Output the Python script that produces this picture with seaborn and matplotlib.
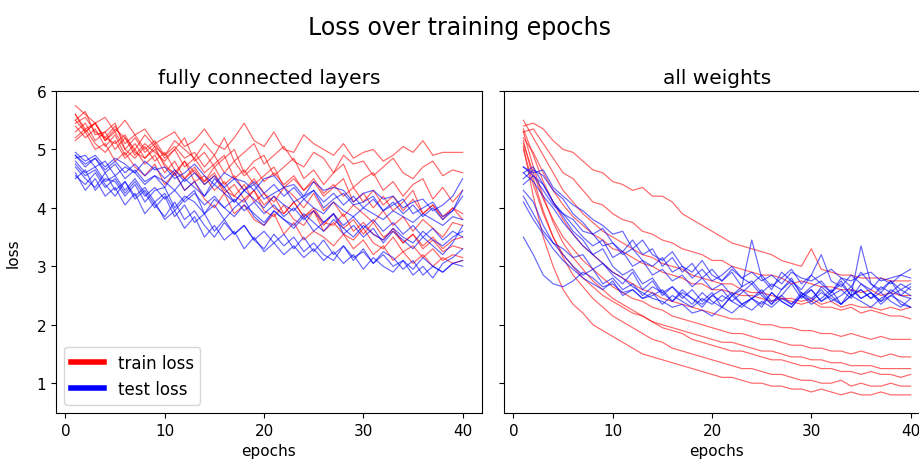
import matplotlib
matplotlib.use("Agg")
import matplotlib.pyplot as plt
import seaborn as sns
import pandas as pd
from matplotlib.lines import Line2D

epochs = list(range(1, 41))

# ---- panel 1: fully connected layers ----
fc_train = [
    [5.75,5.6,5.45,5.55,5.3,5.5,5.25,5.35,5.1,5.2,5.3,5.05,5.15,5.35,5.1,5.0,5.2,5.45,5.15,5.05,5.3,5.0,4.95,5.25,5.1,5.0,4.9,5.1,4.85,4.95,5.0,4.8,4.9,5.05,4.95,5.15,4.9,4.95,4.95,4.95],
    [5.6,5.3,5.45,5.15,5.35,5.2,5.0,5.25,5.05,4.9,5.15,5.0,4.85,5.1,4.9,5.2,4.8,4.95,5.1,4.75,4.9,5.05,4.8,4.7,4.95,4.85,4.6,4.9,4.75,4.8,4.55,4.7,4.85,4.6,4.5,4.7,4.8,4.55,4.65,4.6],
    [5.5,5.65,5.25,5.3,5.45,5.0,5.2,4.95,5.1,4.85,5.0,5.2,4.8,4.95,4.7,4.85,5.0,4.6,4.8,4.9,4.55,4.7,4.85,4.5,4.65,4.4,4.6,4.75,4.35,4.5,4.6,4.3,4.45,4.2,4.4,4.5,4.15,4.35,4.1,4.3],
    [5.3,5.45,5.15,5.3,5.0,5.2,4.9,5.1,4.95,4.8,5.0,4.7,4.85,4.6,4.75,4.9,4.5,4.65,4.4,4.55,4.7,4.35,4.5,4.3,4.45,4.2,4.35,4.5,4.1,4.25,4.0,4.2,3.95,4.1,4.3,3.9,4.05,3.85,4.0,3.9],
    [5.4,5.2,5.35,5.05,5.25,4.9,5.1,4.85,5.0,4.75,4.55,4.8,4.6,4.45,4.7,4.4,4.55,4.3,4.5,4.25,4.1,4.35,4.2,4.0,4.25,3.95,4.1,3.85,4.05,3.9,3.75,3.95,3.7,3.85,3.6,3.8,3.65,3.5,3.75,3.7],
    [5.2,5.35,5.1,4.95,5.15,4.85,5.0,4.75,4.9,4.6,4.8,4.5,4.65,4.4,4.55,4.25,4.4,4.15,4.3,4.05,4.2,3.9,4.1,3.85,3.95,3.7,3.9,3.65,3.8,3.55,3.75,3.5,3.6,3.4,3.55,3.35,3.5,3.3,3.45,3.5],
    [5.5,5.3,5.45,5.2,5.1,5.25,4.95,4.85,5.05,4.7,4.6,4.8,4.45,4.55,4.3,4.45,4.2,4.1,4.3,3.95,3.85,4.05,3.8,3.7,3.95,3.6,3.75,3.55,3.45,3.65,3.4,3.3,3.5,3.25,3.35,3.15,3.3,3.1,3.2,3.15],
    [5.15,5.3,5.0,5.1,4.8,4.95,4.7,4.55,4.75,4.4,4.6,4.3,4.45,4.15,4.0,4.25,3.9,4.05,3.8,3.7,3.9,3.55,3.75,3.45,3.6,3.5,3.35,3.55,3.3,3.45,3.2,3.35,3.1,3.25,3.05,3.2,3.0,3.15,3.05,3.1],
    [5.6,5.35,5.45,5.15,5.3,5.0,4.85,5.05,4.8,4.95,4.65,4.5,4.7,4.45,4.6,4.3,4.2,4.4,4.1,4.25,4.0,3.9,4.1,3.85,4.0,3.75,3.7,3.9,3.6,3.75,3.55,3.45,3.65,3.4,3.55,3.3,3.45,3.25,3.35,3.3],
    [5.45,5.55,5.3,5.2,5.4,5.1,5.25,5.0,5.15,4.9,5.05,4.85,4.95,4.7,4.9,4.6,4.8,4.55,4.7,4.45,4.6,4.4,4.55,4.3,4.5,4.25,4.4,4.2,4.35,4.1,4.3,4.05,4.2,3.95,4.15,3.9,4.05,3.8,4.0,3.8],
]
fc_test = [
    [4.95,4.8,4.9,4.7,4.85,4.75,4.6,4.8,4.65,4.7,4.5,4.6,4.75,4.55,4.4,4.6,4.5,4.45,4.3,4.5,4.55,4.35,4.4,4.2,4.45,4.3,4.35,4.3,4.1,4.25,4.3,4.15,4.2,4.0,4.1,4.15,3.95,4.05,4.2,4.5],
    [4.9,4.7,4.85,4.6,4.75,4.5,4.65,4.45,4.55,4.35,4.6,4.3,4.45,4.2,4.5,4.35,4.1,4.3,4.4,4.15,4.25,4.35,4.1,4.2,4.3,4.0,4.15,4.25,4.05,4.1,4.2,3.95,4.05,4.15,3.9,4.0,4.1,3.85,3.95,4.3],
    [4.7,4.5,4.35,4.6,4.3,4.45,4.2,4.35,4.1,4.25,3.95,4.15,4.3,3.9,4.05,3.8,4.0,4.15,3.85,3.7,3.95,3.8,3.65,3.85,3.6,3.75,3.9,3.55,3.7,3.5,3.65,3.4,3.6,3.45,3.3,3.5,3.35,3.2,3.4,3.7],
    [4.8,4.6,4.7,4.45,4.55,4.3,4.5,4.25,4.0,4.2,3.85,4.05,3.75,3.9,3.6,3.8,3.55,3.7,3.45,3.6,3.4,3.55,3.3,3.5,3.25,3.45,3.2,3.35,3.1,3.3,3.05,3.25,3.15,2.95,3.1,2.85,3.0,2.9,3.05,3.0],
    [4.6,4.3,4.5,4.2,4.35,4.05,4.25,3.9,4.1,3.8,3.95,3.65,3.85,3.5,3.7,3.45,3.6,3.3,3.5,3.25,3.4,3.2,3.35,3.15,3.3,3.1,3.25,3.05,3.2,2.95,3.15,3.0,2.9,3.1,2.85,3.0,2.8,3.05,3.15,3.3],
    [4.5,4.65,4.3,4.5,4.45,4.2,4.4,4.1,4.3,4.35,4.0,4.2,4.1,3.9,4.15,4.0,3.85,4.05,3.9,3.75,3.95,3.8,3.7,3.9,3.75,3.6,3.8,3.65,3.5,3.7,3.55,3.45,3.65,3.5,3.4,3.6,3.45,3.35,3.5,3.6],
    [4.85,4.9,4.7,4.8,4.55,4.7,4.6,4.4,4.55,4.45,4.3,4.5,4.35,4.2,4.4,4.25,4.1,4.3,4.15,4.0,4.2,4.05,3.95,4.15,4.0,3.9,4.1,3.95,3.85,4.0,3.9,3.8,3.95,3.85,3.75,3.9,3.8,3.7,3.85,3.8],
    [4.75,4.55,4.65,4.4,4.2,4.45,4.15,4.3,4.05,3.85,4.1,3.8,3.95,3.7,3.5,3.75,3.55,3.7,3.45,3.3,3.55,3.35,3.5,3.25,3.4,3.2,3.1,3.35,3.15,3.25,3.05,3.2,3.0,3.1,2.95,3.15,3.0,2.9,3.05,3.1],
    [4.55,4.4,4.6,4.35,4.5,4.25,4.45,4.2,4.35,4.15,4.3,4.1,4.25,4.05,4.2,4.0,4.15,3.95,4.1,3.9,4.05,3.85,4.0,3.8,3.95,3.75,3.9,3.7,3.85,3.65,3.8,3.6,3.75,3.55,3.7,3.5,3.65,3.45,3.6,3.5],
    [4.9,4.75,4.85,4.65,4.8,4.6,4.75,4.55,4.7,4.5,4.65,4.45,4.6,4.4,4.55,4.35,4.5,4.3,4.45,4.25,4.4,4.2,4.35,4.15,4.3,4.1,4.25,4.05,4.2,4.0,4.15,3.95,4.1,3.9,4.05,3.85,4.0,3.8,3.95,4.2],
]

# ---- panel 2: all weights ----
all_train = [
    [5.4,5.45,5.35,5.15,5.0,4.95,4.8,4.65,4.6,4.45,4.4,4.3,4.35,4.2,4.2,4.1,3.9,3.8,3.7,3.6,3.5,3.4,3.35,3.3,3.25,3.2,3.1,3.05,3.0,3.3,2.95,2.9,2.85,2.85,2.8,2.8,2.8,2.75,2.75,2.75],
    [5.3,5.35,5.1,4.85,4.6,4.5,4.3,4.1,4.05,3.9,3.8,3.75,3.6,3.55,3.45,3.4,3.3,3.25,3.2,3.1,3.1,3.0,2.95,2.9,2.85,2.85,2.8,2.7,2.75,2.7,2.65,2.65,2.6,2.6,2.55,2.6,2.5,2.55,2.5,2.5],
    [5.5,5.2,4.9,4.6,4.3,4.1,3.9,3.75,3.6,3.5,3.4,3.3,3.2,3.15,3.05,3.0,2.95,2.85,2.8,2.75,2.7,2.7,2.6,2.55,2.55,2.5,2.45,2.45,2.4,2.45,2.35,2.4,2.3,2.35,2.3,2.3,2.25,2.3,2.25,2.3],
    [5.2,4.95,4.6,4.3,4.05,3.85,3.7,3.55,3.45,3.3,3.25,3.15,3.05,3.0,2.9,2.85,2.8,2.7,2.7,2.6,2.6,2.55,2.5,2.5,2.45,2.4,2.45,2.4,2.35,2.4,2.3,2.3,2.25,2.3,2.2,2.25,2.2,2.15,2.15,2.1],
    [5.35,4.9,4.45,4.1,3.8,3.55,3.35,3.2,3.05,2.9,2.8,2.7,2.6,2.55,2.45,2.4,2.35,2.3,2.25,2.2,2.15,2.1,2.1,2.05,2.0,2.0,1.95,1.95,1.9,1.9,1.85,1.85,1.8,1.85,1.8,1.75,1.8,1.75,1.75,1.75],
    [5.1,4.6,4.15,3.8,3.5,3.3,3.1,2.95,2.8,2.65,2.55,2.45,2.4,2.3,2.25,2.15,2.1,2.05,2.0,1.95,1.9,1.85,1.85,1.8,1.75,1.75,1.7,1.65,1.65,1.6,1.6,1.55,1.55,1.5,1.55,1.5,1.45,1.5,1.45,1.45],
    [5.0,4.4,3.9,3.5,3.2,3.0,2.8,2.65,2.5,2.4,2.3,2.2,2.15,2.05,2.0,1.95,1.9,1.85,1.8,1.75,1.7,1.7,1.65,1.6,1.55,1.55,1.5,1.45,1.45,1.4,1.4,1.35,1.35,1.3,1.3,1.3,1.25,1.25,1.25,1.25],
    [5.3,4.7,4.2,3.75,3.4,3.15,2.95,2.75,2.6,2.45,2.35,2.25,2.15,2.05,1.95,1.9,1.85,1.75,1.7,1.65,1.6,1.55,1.55,1.5,1.45,1.4,1.4,1.35,1.3,1.3,1.25,1.25,1.2,1.2,1.15,1.2,1.15,1.15,1.1,1.15],
    [5.15,4.5,3.95,3.5,3.15,2.85,2.65,2.45,2.3,2.15,2.05,1.95,1.85,1.75,1.7,1.6,1.55,1.5,1.45,1.4,1.35,1.3,1.25,1.25,1.2,1.15,1.15,1.1,1.05,1.05,1.0,1.0,1.05,0.95,1.0,0.95,0.95,1.0,0.95,0.95],
    [5.05,4.2,3.5,3.0,2.6,2.35,2.2,2.0,1.9,1.8,1.7,1.6,1.5,1.45,1.4,1.35,1.3,1.25,1.2,1.15,1.1,1.1,1.05,1.0,1.0,0.95,0.95,0.9,0.9,0.85,0.9,0.85,0.8,0.85,0.8,0.8,0.85,0.8,0.8,0.8],
]
all_test = [
    [3.5,3.2,2.85,2.7,2.65,2.75,2.9,2.8,2.65,2.7,2.55,2.6,2.45,2.5,2.6,2.4,2.55,2.45,2.35,2.5,2.4,2.55,2.35,2.45,2.6,2.4,2.5,2.35,2.55,2.45,2.6,2.4,2.5,2.65,2.45,2.55,2.4,2.5,2.6,2.5],
    [4.3,4.1,3.7,3.4,3.2,3.0,2.85,2.95,2.7,2.8,2.6,2.7,2.5,2.65,2.55,2.4,2.6,2.45,2.3,2.5,2.6,2.4,2.55,2.7,2.5,2.35,2.6,2.75,2.55,2.4,2.65,2.5,2.6,2.45,2.7,2.55,2.4,2.6,2.5,2.45],
    [4.6,4.7,4.4,4.1,3.85,3.6,3.45,3.2,3.3,3.0,2.85,2.95,2.7,2.8,2.55,2.65,2.5,2.35,2.55,2.4,2.3,2.5,2.6,2.45,2.55,2.35,2.5,2.7,2.45,2.6,2.4,2.55,2.75,2.5,2.6,2.45,2.65,2.55,2.7,2.6],
    [4.5,4.65,4.55,4.3,4.15,3.9,3.75,3.55,3.65,3.4,3.25,3.45,3.2,3.3,3.0,3.15,2.9,3.05,2.8,2.95,2.75,2.9,2.65,3.45,2.8,2.6,2.9,2.75,2.6,2.85,2.7,2.55,2.8,2.65,2.9,2.7,2.55,2.75,2.6,2.7],
    [4.7,4.6,4.65,4.35,4.2,4.05,3.95,3.8,3.7,3.55,3.6,3.3,3.45,3.2,3.1,3.25,3.0,2.9,3.1,2.85,2.75,2.95,2.8,2.7,2.85,2.65,2.8,2.95,2.7,2.85,3.2,2.75,2.65,2.85,2.7,2.6,2.8,2.7,2.85,2.8],
    [4.2,3.9,3.6,3.4,3.3,3.15,3.2,2.95,3.05,2.85,2.7,2.9,2.6,2.75,2.5,2.65,2.45,2.6,2.4,2.55,2.3,2.5,2.35,2.45,2.3,2.55,2.4,2.3,2.5,2.35,2.45,2.6,2.35,2.5,2.4,2.3,2.45,2.55,2.35,2.3],
    [4.6,4.45,4.2,4.0,3.75,3.55,3.35,3.2,3.05,2.9,2.8,2.65,2.55,2.45,2.4,2.3,2.35,2.2,2.25,2.15,2.3,2.2,2.35,2.25,2.4,2.3,2.45,2.35,2.5,2.4,2.55,2.45,2.35,2.5,2.6,2.45,2.55,2.4,2.3,2.45],
    [4.4,4.55,4.3,4.05,3.9,3.7,3.5,3.35,3.45,3.15,3.25,3.0,3.1,2.85,2.95,2.75,2.85,2.65,2.8,2.6,2.7,2.5,2.65,2.75,2.55,2.7,2.6,2.8,2.5,2.65,2.75,2.55,2.7,2.5,3.35,2.7,2.6,2.75,2.5,2.65],
    [4.7,4.55,4.4,4.1,3.9,3.8,3.6,3.55,3.35,3.4,3.2,3.3,3.1,3.0,3.15,2.9,3.0,2.8,2.95,2.75,2.85,3.0,2.8,2.9,2.75,2.85,2.7,2.9,2.8,2.75,2.85,2.95,2.8,2.75,2.85,2.9,2.75,2.8,2.85,2.95],
    [4.1,3.8,3.55,3.3,3.1,2.95,2.8,2.7,2.6,2.75,2.5,2.6,2.45,2.55,2.35,2.5,2.4,2.3,2.45,2.35,2.5,2.4,2.3,2.45,2.35,2.55,2.4,2.3,2.5,2.6,2.4,2.5,2.35,2.6,2.45,2.55,2.35,2.5,2.4,2.3],
]

titles = ["fully connected layers", "all weights"]
kinds = ["train loss", "test loss"]
colors = {"train loss": "red", "test loss": "blue"}


def long_frame(train, test):
    rows = []
    for kind, runs in (("train loss", train), ("test loss", test)):
        for r, vals in enumerate(runs):
            for e, v in zip(epochs, vals):
                rows.append({"epoch": e, "loss": v, "kind": kind, "run": f"{kind}-{r}"})
    return pd.DataFrame(rows)


fig = plt.figure(figsize=(9.2, 4.64), dpi=100)
W, H = 920, 464
ax1 = fig.add_axes([56 / W, 50 / H, 426 / W, 322 / H])
ax2 = fig.add_axes([504 / W, 50 / H, 426 / W, 322 / H], sharey=ax1)

for ax, (train, test), title in zip((ax1, ax2), ((fc_train, fc_test), (all_train, all_test)), titles):
    df = long_frame(train, test)
    sns.lineplot(data=df, x="epoch", y="loss", hue="kind", hue_order=kinds,
                 units="run", estimator=None, palette=colors, linewidth=0.85,
                 alpha=0.6, legend=False, ax=ax)
    ax.set_title(title, fontsize=14.5)
    ax.set_xlabel("epochs", fontsize=11)
    ax.set_ylabel("")
    ax.set_xticks([0, 10, 20, 30, 40])
    ax.tick_params(labelsize=11)

ax1.set_ylim(0.49, 6.0)
ax1.set_yticks([1, 2, 3, 4, 5, 6])
ax1.set_ylabel("loss", fontsize=11)
ax1.yaxis.set_label_coords(-0.083, 0.5)
ax2.tick_params(labelleft=False)

handles = [Line2D([0], [0], color=colors[k], lw=4) for k in kinds]
ax1.legend(handles, kinds, loc="lower left", fontsize=12, handlelength=2.0)

fig.suptitle("Loss over training epochs", fontsize=17, y=1 - 28 / H, va="center")
fig.savefig("out.png", dpi=100)
